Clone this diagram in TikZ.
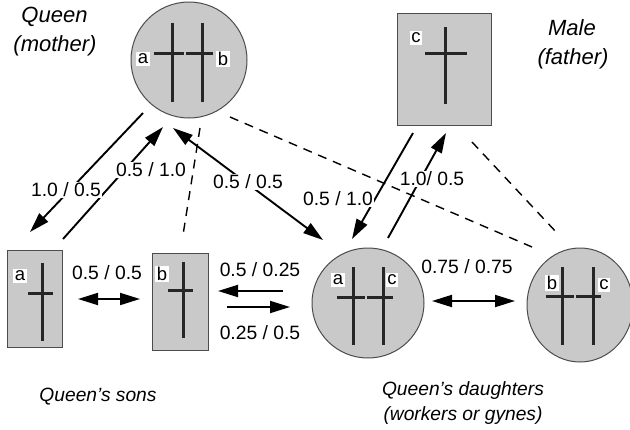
\documentclass[tikz,border=0pt]{standalone}
\usepackage{fontspec}
\setmainfont{Liberation Sans}
\usetikzlibrary{arrows.meta,shapes.geometric}
\begin{document}
\begin{tikzpicture}[x=1pt,y=-1pt,
  cell/.style={draw=black!70, line width=1pt, fill=gray!42, inner sep=0pt, outer sep=0pt},
  circ/.style={cell, ellipse},
  sq/.style={cell, rectangle},
  chrom/.style={line width=3pt, black!85},
  tipA/.tip={Triangle[length=20pt,width=12pt]},
  arr/.style={line width=1.9pt, -tipA},
  darr/.style={line width=1.9pt, tipA-tipA},
  dsh/.style={line width=1.4pt, dash pattern=on 9pt off 7pt},
  lbl/.style={fill=white, inner sep=1pt, font=\fontsize{19.3}{21}\selectfont},
  gene/.style={fill=white, inner sep=1.5pt, font=\fontsize{18.5}{20}\selectfont},
  captext/.style={font=\fontsize{19.2}{23}\selectfont\itshape},
  bigtext/.style={font=\fontsize{22}{26}\selectfont\itshape}
]
\useasboundingbox (0,0) rectangle (630,429);

% cells
\node[circ, minimum width=116pt, minimum height=116pt] (Q) at (189,60) {};
\node[sq, minimum width=94pt, minimum height=112pt] (M) at (444,69) {};
\node[sq, minimum width=55pt, minimum height=97pt] (SA) at (34.5,298.5) {};
\node[sq, minimum width=56pt, minimum height=97pt] (SB) at (180,301.5) {};
\node[circ, minimum width=112pt, minimum height=110pt] (D1) at (368,303) {};
\node[circ, minimum width=106pt, minimum height=114pt] (D2) at (580,305) {};

% chromosomes
\draw[chrom] (172,23) -- (172,102);
\draw[chrom] (202,23) -- (202,102);
\draw[chrom] (154,53) -- (184,53);
\draw[chrom] (186,53) -- (213,53);
\draw[chrom] (445,27) -- (445,104);
\draw[chrom] (425,53) -- (467,53);
\draw[chrom] (42,263) -- (42,341);
\draw[chrom] (28,293) -- (53,293);
\draw[chrom] (183,262) -- (183,338);
\draw[chrom] (168,290) -- (193,290);
\draw[chrom] (353,267) -- (353,345);
\draw[chrom] (383,267) -- (383,345);
\draw[chrom] (337,297) -- (365,297);
\draw[chrom] (367,297) -- (393,297);
\draw[chrom] (562,267) -- (562,345);
\draw[chrom] (593,267) -- (593,345);
\draw[chrom] (546,296) -- (574,296);
\draw[chrom] (576,296) -- (601,296);

% gene labels
\node[gene] (Qa) at (143,59) {a};
\node[gene] (Qb) at (223,59) {b};
\node[gene] (Mc) at (416,38) {c};
\node[gene] (SAa) at (20,276) {a};
\node[gene] (SBb) at (162,274) {b};
\node[gene] (D1a) at (338,280) {a};
\node[gene] (D1c) at (392,280) {c};
\node[gene] (D2b) at (552,283) {b};
\node[gene] (D2c) at (604,285) {c};

% connectors
\draw[arr] ([shift={(-46,53)}]Q.center) -- ([shift={(-4.5,-66.5)}]SA.center);
\draw[arr] ([shift={(28.5,-59.5)}]SA.center) -- ([shift={(-26,67)}]Q.center);
\draw[darr] ([shift={(-16,68)}]Q.center) -- ([shift={(-45,-63)}]D1.center);
\draw[dsh] ([shift={(11,68)}]Q.center) -- ([shift={(3,-66.5)}]SB.center);
\draw[dsh] ([shift={(41,57)}]Q.center) -- ([shift={(-48,-58)}]D2.center);
\draw[arr] ([shift={(-31,64)}]M.center) -- ([shift={(-16,-64)}]D1.center);
\draw[arr] ([shift={(20,-65)}]D1.center) -- ([shift={(2,64)}]M.center);
\draw[dsh] ([shift={(28,73)}]M.center) -- ([shift={(-23,-72)}]D2.center);
\draw[darr] ([shift={(43.5,0.5)}]SA.center) -- ([shift={(-40,-2.5)}]SB.center);
\draw[arr] ([shift={(-85,-12)}]D1.center) -- ([shift={(38,-10.5)}]SB.center);
\draw[arr] ([shift={(47,5.5)}]SB.center) -- ([shift={(-78,4)}]D1.center);
\draw[darr] ([shift={(64,-2)}]D1.center) -- ([shift={(-65,-4)}]D2.center);

% connector labels
\node[lbl] (l1) at (66,190) {1.0 / 0.5};
\node[lbl] (l2) at (151,170) {0.5 / 1.0};
\node[lbl] (l3) at (248,182) {0.5 / 0.5};
\node[lbl] (l4) at (338,199) {0.5 / 1.0};
\node[lbl] (l5) at (432,179) {1.0/ 0.5};
\node[lbl] (l6) at (107,273) {0.5 / 0.5};
\node[lbl] (l7) at (260,270) {0.5 / 0.25};
\node[lbl] (l8) at (260,333) {0.25 / 0.5};
\node[lbl] (l9) at (467,267) {0.75 / 0.75};

% captions
\node[bigtext] (t1) at (54.5,17) {Queen};
\node[bigtext] (t2) at (55,46) {(mother)};
\node[bigtext] (t3) at (572,28) {Male};
\node[bigtext] (t4) at (573,59) {(father)};
\node[captext] (t5) at (98,397) {Queen's sons};
\node[captext] (t6) at (463,391) {Queen's daughters};
\node[captext] (t7) at (463,416) {(workers or gynes)};
\end{tikzpicture}
\end{document}
